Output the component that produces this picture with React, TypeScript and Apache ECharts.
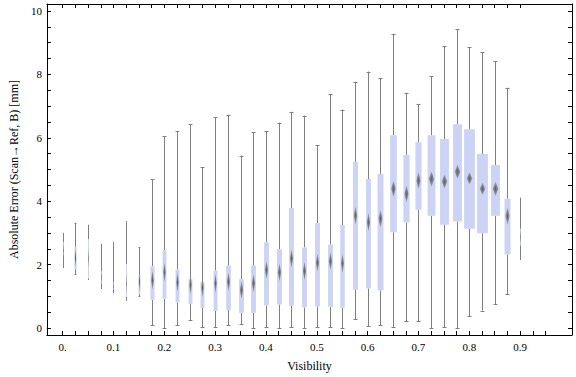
import React, { useEffect, useRef } from "react";
import * as echarts from "echarts";

// Box positions on the Visibility axis
const visibility = [
  0, 0.025, 0.05, 0.075, 0.1, 0.125, 0.15, 0.175, 0.2, 0.225, 0.25, 0.275,
  0.3, 0.325, 0.35, 0.375, 0.4, 0.425, 0.45, 0.475, 0.5, 0.525, 0.55, 0.575,
  0.6, 0.625, 0.65, 0.675, 0.7, 0.725, 0.75, 0.775, 0.8, 0.825, 0.85, 0.875, 0.9,
];
const whiskerLow = [
  1.92, 1.69, 1.55, 1.25, 1.13, 0.89, 1.01, 0.08, 0.0, 0.08, 0.26, 0.02,
  0.02, 0.09, 0.13, 0.0, 0.02, 0.0, 0.02, 0.0, 0.02, 0.02, 0.0, 0.27,
  0.05, 0.08, 0.02, 0.21, 0.21, 0.0, 0.02, 0.0, 0.37, 0.55, 0.75, 1.06, 2.17,
];
const lowerQuartile = [
  2.3, 1.86, 1.57, 1.41, 1.2, 0.99, 1.08, 0.89, 0.92, 0.81, 0.76, 0.63,
  0.54, 0.57, 0.48, 0.48, 0.71, 0.74, 0.7, 0.65, 0.68, 0.67, 0.64, 1.2,
  1.25, 1.19, 3.02, 3.33, 3.73, 3.54, 3.26, 3.36, 3.13, 2.99, 3.54, 2.32, 2.61,
];
const median = [
  2.45, 2.22, 2.2, 1.6, 1.3, 1.4, 1.46, 1.51, 1.76, 1.44, 1.36, 1.27,
  1.41, 1.46, 1.2, 1.41, 1.83, 1.76, 2.19, 1.8, 2.06, 2.11, 2.04, 3.55,
  3.34, 3.45, 4.39, 4.23, 4.65, 4.7, 4.62, 4.93, 4.72, 4.39, 4.39, 3.53, 2.87,
];
const upperQuartile = [
  2.7, 2.56, 2.8, 1.8, 1.46, 2.01, 1.67, 1.95, 2.45, 1.85, 1.54, 1.46,
  1.81, 1.97, 1.54, 1.97, 2.7, 2.48, 3.79, 2.54, 3.31, 2.63, 3.25, 5.24,
  4.7, 4.86, 6.08, 5.46, 5.86, 6.08, 5.96, 6.43, 6.27, 5.49, 5.14, 4.08, 3.13,
];
const whiskerHigh = [
  3.0, 3.32, 3.26, 2.66, 2.7, 3.36, 2.54, 4.69, 6.05, 6.2, 6.42, 5.07,
  6.65, 6.73, 5.44, 6.17, 6.22, 6.48, 6.82, 6.7, 5.76, 7.38, 6.89, 7.77,
  8.09, 7.89, 9.28, 7.42, 7.07, 7.95, 8.9, 9.43, 8.86, 8.7, 8.42, 7.58, 4.11,
];
// relative sample share (drives box width)
const relativeCount = [
  0.09, 0.18, 0.09, 0.09, 0.09, 0.09, 0.18, 0.39, 0.36, 0.36, 0.36, 0.36,
  0.36, 0.43, 0.45, 0.45, 0.45, 0.45, 0.45, 0.45, 0.45, 0.45, 0.41, 0.45,
  0.45, 0.55, 0.61, 0.57, 0.57, 0.73, 0.82, 0.82, 1.0, 1.0, 0.82, 0.55, 0.09,
];

const xLabelValues = [0, 0.1, 0.2, 0.3, 0.4, 0.5, 0.6, 0.7, 0.8, 0.9];
const xTickValues = Array.from({ length: 39 }, (_, i) => +(i * 0.025).toFixed(3));
const yLabelValues = [0, 2, 4, 6, 8, 10];
const yTickValues = Array.from({ length: 21 }, (_, i) => i * 0.5);

const FONT = "'Liberation Serif', 'Times New Roman', serif";

export default function App() {
  const ref = useRef<HTMLDivElement>(null);
  useEffect(() => {
    if (!ref.current) return;
    const chart = echarts.init(ref.current, null, { renderer: "svg" });
    const data = visibility.map((v, i) => [
      v,
      whiskerLow[i],
      lowerQuartile[i],
      median[i],
      upperQuartile[i],
      whiskerHigh[i],
      relativeCount[i],
    ]);
    const axisBase = {
      type: "value" as const,
      axisLine: { show: true, onZero: false, lineStyle: { color: "#000", width: 1 } },
      splitLine: { show: false },
    };
    chart.setOption({
      animation: false,
      backgroundColor: "#fff",
      grid: { left: 36, right: 4, top: 4, bottom: 40, containLabel: false },
      xAxis: [
        {
          ...axisBase,
          position: "bottom",
          min: -0.031,
          max: 1.002,
          axisTick: { show: true, inside: true, length: 4, customValues: xTickValues, lineStyle: { color: "#000" } },
          axisLabel: {
            show: true,
            customValues: xLabelValues,
            margin: 6,
            fontFamily: FONT,
            fontSize: 11,
            color: "#000",
            formatter: (v: number) => (v === 0 ? "0." : String(+v.toFixed(1))),
          },
          name: "Visibility",
          nameLocation: "middle",
          nameGap: 25,
          nameTextStyle: { fontFamily: FONT, fontSize: 12, color: "#000" },
        },
        {
          ...axisBase,
          position: "top",
          min: -0.031,
          max: 1.002,
          axisTick: { show: true, inside: true, length: 4, customValues: visibility, lineStyle: { color: "#000" } },
          axisLabel: { show: false },
        },
      ],
      yAxis: [
        {
          ...axisBase,
          position: "left",
          min: -0.22,
          max: 10.22,
          axisTick: { show: true, inside: true, length: 4, customValues: yTickValues, lineStyle: { color: "#000" } },
          axisLabel: {
            show: true,
            customValues: yLabelValues,
            margin: 5,
            fontFamily: FONT,
            fontSize: 11,
            color: "#000",
          },
          name: "Absolute Error (Scan\u2192Ref, B) [mm]",
          nameLocation: "middle",
          nameGap: 23,
          nameTextStyle: { fontFamily: FONT, fontSize: 12, color: "#000" },
        },
        {
          ...axisBase,
          position: "right",
          min: -0.22,
          max: 10.22,
          axisTick: { show: true, inside: true, length: 4, customValues: yTickValues, lineStyle: { color: "#000" } },
          axisLabel: { show: false },
        },
      ],
      series: [
        {
          type: "custom",
          xAxisIndex: 0,
          yAxisIndex: 0,
          data,
          renderItem: (params: any, api: any) => {
            const x = api.value(0);
            const pHi = api.coord([x, api.value(5)]);
            const pQ3 = api.coord([x, api.value(4)]);
            const pMed = api.coord([x, api.value(3)]);
            const pQ1 = api.coord([x, api.value(2)]);
            const pLo = api.coord([x, api.value(1)]);
            const unit = api.size([0.025, 0])[0];
            const w = Math.max(api.value(6) * unit * 0.85, 0.5);
            const cx = Math.round(pHi[0]);
            const lx = cx + 0.5;
            const capHalf = Math.min(w, 4) / 2;
            const lineStyle = { stroke: "#7f7f7f", lineWidth: 1 };
            const dw = Math.min(w * 0.7, 5.5) / 2;
            const dh = (12 + Math.max(11 - w, 0) * 1.0) / 2;
            const my = pMed[1];
            return {
              type: "group",
              children: [
                { type: "line", shape: { x1: lx, y1: pHi[1], x2: lx, y2: pQ3[1] }, style: lineStyle },
                { type: "line", shape: { x1: lx, y1: pQ1[1], x2: lx, y2: pLo[1] }, style: lineStyle },
                { type: "line", shape: { x1: lx - capHalf, y1: Math.round(pHi[1]) + 0.5, x2: lx + capHalf, y2: Math.round(pHi[1]) + 0.5 }, style: lineStyle },
                { type: "line", shape: { x1: lx - capHalf, y1: Math.round(pLo[1]) + 0.5, x2: lx + capHalf, y2: Math.round(pLo[1]) + 0.5 }, style: lineStyle },
                {
                  type: "rect",
                  shape: { x: lx - w / 2, y: pQ3[1], width: w, height: pQ1[1] - pQ3[1] },
                  style: { fill: "#ccd3f5" },
                },
                {
                  type: "polygon",
                  shape: {
                    points: [
                      [lx, my - dh],
                      [lx + dw, my],
                      [lx, my + dh],
                      [lx - dw, my],
                    ],
                  },
                  style: {
                    fill: new echarts.graphic.RadialGradient(0.5, 0.5, 0.5, [
                      { offset: 0, color: "rgba(95,95,95,1)" },
                      { offset: 1, color: "rgba(120,120,120,0.55)" },
                    ]),
                  },
                },
              ],
            };
          },
        },
      ],
    });
    return () => chart.dispose();
  }, []);
  return <div ref={ref} style={{ width: 576, height: 377, position: "absolute", left: 0, top: 0 }} />;
}
